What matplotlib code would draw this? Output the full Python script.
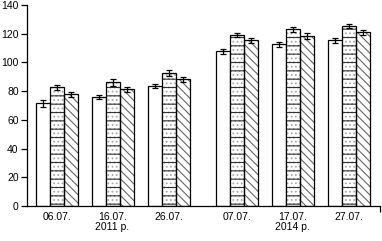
import matplotlib.pyplot as plt
import numpy as np

plt.rcParams['font.family'] = ['Liberation Sans', 'DejaVu Sans']
plt.rcParams['hatch.linewidth'] = 0.8

labels = ["06.07.", "16.07.\n2011 р.", "26.07.", "07.07.", "17.07.\n2014 р.", "27.07."]
pos = np.array([0, 1, 2, 3.23, 4.22, 5.22])

s1 = [71.5, 76.1, 83.7, 107.9, 112.5, 115.3]
s2 = [82.6, 86.3, 92.8, 119.0, 123.0, 125.3]
s3 = [77.7, 81.2, 88.2, 115.3, 118.3, 120.9]
e1 = [2.3, 1.5, 1.3, 1.8, 2.0, 1.8]
e2 = [1.5, 2.5, 2.0, 1.5, 2.0, 1.5]
e3 = [1.8, 2.0, 1.5, 1.5, 2.0, 1.8]

w = 0.25
lw = 0.9

fig = plt.figure(figsize=(3.82, 2.41), dpi=100)
ax = fig.add_axes([27 / 382, 1 - 206 / 241, 353 / 382, 201 / 241])

ek = dict(ecolor='black', elinewidth=lw, capsize=2.5, capthick=lw)

# white bars
ax.bar(pos - w, s1, w, color='white', edgecolor='black', linewidth=lw,
       yerr=e1, error_kw=ek, zorder=2)

# dotted bars: gray dots + black dashes
ax.bar(pos, s2, w, color='white', edgecolor='#a8a8a8', linewidth=0,
       hatch='....', zorder=2)
ax.bar(pos, s2, w, fill=False, edgecolor='#333333', linewidth=0,
       hatch='--', zorder=3)
ax.bar(pos, s2, w, fill=False, edgecolor='black', linewidth=lw,
       yerr=e2, error_kw=ek, zorder=4)

# hatched bars
ax.bar(pos + w, s3, w, color='white', edgecolor='#666666', linewidth=0,
       hatch='\\\\\\\\', zorder=2)
ax.bar(pos + w, s3, w, fill=False, edgecolor='black', linewidth=lw,
       yerr=e3, error_kw=ek, zorder=4)

ax.set_xlim(-0.527, 5.777)
ax.set_ylim(0, 140)
ax.set_yticks(range(0, 141, 20))
ax.set_xticks(pos)
ax.set_xticklabels(labels, fontsize=7.5, linespacing=1.1)
ax.tick_params(axis='x', length=0, pad=4)
ax.tick_params(axis='y', labelsize=7.5, length=4, width=lw, pad=2)
ax.set_xticks([5.777], minor=True)
ax.tick_params(axis='x', which='minor', length=4, width=lw)

for s in ['top', 'right']:
    ax.spines[s].set_visible(False)
ax.spines['left'].set_linewidth(lw)
ax.spines['bottom'].set_linewidth(lw)

plt.savefig("out.png", dpi=100)
